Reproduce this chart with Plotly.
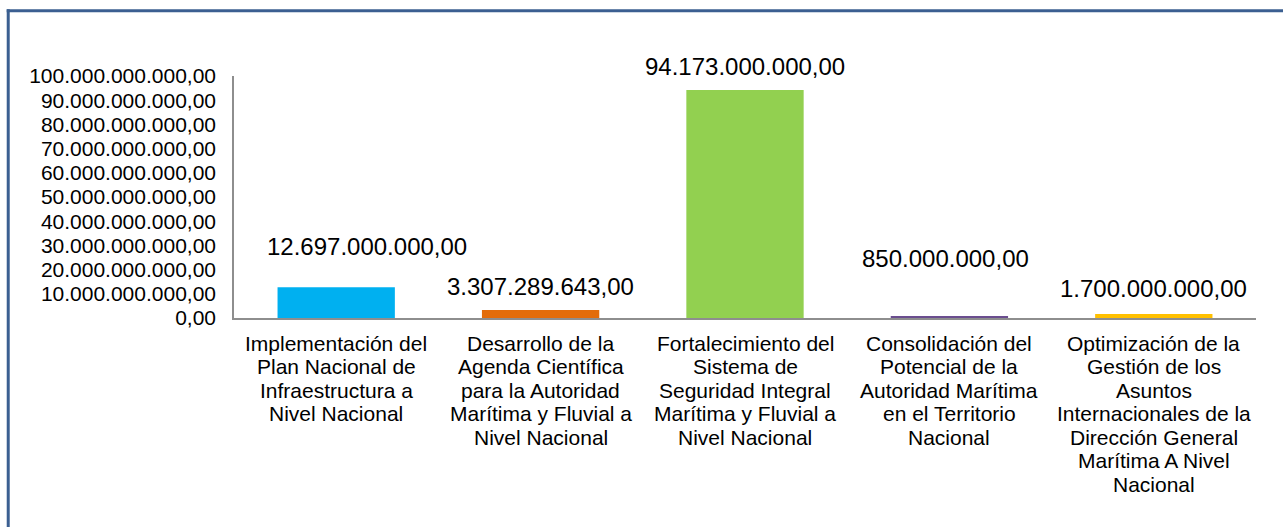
import plotly.graph_objects as go

# ---- data ----
categories = [
    "Implementación del Plan Nacional de Infraestructura a Nivel Nacional",
    "Desarrollo de la Agenda Científica para la Autoridad Marítima y Fluvial a Nivel Nacional",
    "Fortalecimiento del Sistema de Seguridad Integral Marítima y Fluvial a Nivel Nacional",
    "Consolidación del Potencial de la Autoridad Marítima en el Territorio Nacional",
    "Optimización de la Gestión de los Asuntos Internacionales de la Dirección General Marítima A Nivel Nacional",
]
category_lines = [
    ["Implementación del", "Plan Nacional de", "Infraestructura a", "Nivel Nacional"],
    ["Desarrollo de la", "Agenda Científica", "para la Autoridad", "Marítima y Fluvial a", "Nivel Nacional"],
    ["Fortalecimiento del", "Sistema de", "Seguridad Integral", "Marítima y Fluvial a", "Nivel Nacional"],
    ["Consolidación del", "Potencial de la", "Autoridad Marítima", "en el Territorio", "Nacional"],
    ["Optimización de la", "Gestión de los", "Asuntos", "Internacionales de la", "Dirección General", "Marítima A Nivel", "Nacional"],
]
values = [12697000000.00, 3307289643.00, 94173000000.00, 850000000.00, 1700000000.00]
y_tickvals = [0, 10e9, 20e9, 30e9, 40e9, 50e9, 60e9, 70e9, 80e9, 90e9, 100e9]

# ---- styles ----
colors = ["#00B0F0", "#E36C0A", "#92D050", "#6B4E8F", "#FFC000"]
label_xshift = [31, 0, 0, -4, 0]
label_yshift = [41, 24, 24, 57, 25]
FONT = "Liberation Sans, Arial, sans-serif"

W, H = 1283, 527
L, R, T, B = 234.4, 27.4, 76, 209
pw, ph = W - L - R, H - T - B


def fmt(v):
    s = f"{v:,.2f}"
    return s.replace(",", "X").replace(".", ",").replace("X", ".")


fig = go.Figure()
fig.add_trace(go.Bar(
    x=categories, y=values, marker=dict(color=colors, line=dict(width=0)),
    hoverinfo="skip",
))

annotations = []
for c, v, dx, dy in zip(categories, values, label_xshift, label_yshift):
    annotations.append(dict(
        x=c, y=v, xref="x", yref="y", text=fmt(v), showarrow=False,
        xshift=dx, yshift=dy, yanchor="middle", xanchor="center",
        font=dict(family=FONT, size=24, color="#000000"),
    ))
for c, lines in zip(categories, category_lines):
    for i, line in enumerate(lines):
        annotations.append(dict(
            x=c, y=0, xref="x", yref="paper", text=line, showarrow=False,
            yshift=-(25 + 23.5 * i), yanchor="middle", xanchor="center",
            font=dict(family=FONT, size=21, color="#000000"),
        ))

# outer frame (Excel chart border): only left and top edges are visible
def px_x(p):
    return (p - L) / pw

def px_y(p):
    return (H - B - p) / ph

frame = dict(color="#3B5F91", width=3)
shapes = [
    dict(type="line", xref="paper", yref="paper",
         x0=px_x(8.8), x1=px_x(8.8), y0=px_y(H + 50), y1=px_y(9.3),
         line=frame, layer="above"),
    dict(type="line", xref="paper", yref="paper",
         x0=px_x(7.3), x1=px_x(W + 50), y0=px_y(10.8), y1=px_y(10.8),
         line=frame, layer="above"),
]

fig.update_layout(
    width=W, height=H,
    margin=dict(l=L, r=R, t=T, b=B, pad=0),
    paper_bgcolor="white", plot_bgcolor="white",
    separators=",.",
    showlegend=False,
    bargap=0.426,
    font=dict(family=FONT, size=21, color="#000000"),
    xaxis=dict(
        showticklabels=False, showgrid=False, zeroline=False,
        showline=True, linecolor="#8E8E8E", linewidth=1.5, ticks="",
        fixedrange=True,
    ),
    yaxis=dict(
        range=[0, 100e9], tickvals=y_tickvals, tickformat=",.2f",
        showgrid=False, zeroline=False, showline=True,
        linecolor="#8E8E8E", linewidth=1.5, ticks="",
        tickfont=dict(family=FONT, size=21, color="#000000"),
        ticklabelstandoff=12, fixedrange=True,
    ),
    annotations=annotations,
    shapes=shapes,
)

fig.write_html(
    "out.html",
    config={"displayModeBar": False},
    post_script="document.body.style.margin='0';document.body.style.overflow='hidden';",
)
